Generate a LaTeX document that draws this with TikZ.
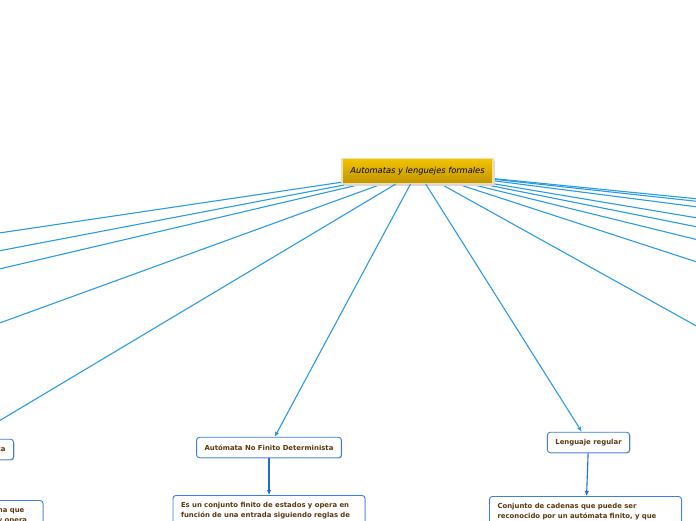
\documentclass[tikz,border=0pt]{standalone}
\usepackage{fontspec}
\setmainfont{DejaVu Sans}
\usetikzlibrary{positioning,arrows.meta,shadows,backgrounds}
\definecolor{linkblue}{HTML}{2B9BE3}
\definecolor{arrowblue}{HTML}{1F6ED4}
\definecolor{boxblue}{HTML}{3D7FE0}
\definecolor{textbrown}{HTML}{5A3810}
\definecolor{goldtop}{HTML}{F2C400}
\definecolor{goldbot}{HTML}{C29400}
\definecolor{goldrim}{HTML}{EFDFA8}
\tikzset{
  central/.style={
    draw=goldrim, line width=1.2pt, top color=goldtop, bottom color=goldbot,
    minimum width=151pt, minimum height=25pt, inner sep=0pt,
    font=\itshape\fontsize{8.3}{9}\selectfont,
    drop shadow={shadow xshift=2pt, shadow yshift=-2pt, fill=black!15, opacity=1}
  },
  topic/.style={
    draw=boxblue, line width=0.9pt, rounded corners=3pt, fill=white,
    text=textbrown, font=\bfseries\fontsize{6.9}{8}\selectfont,
    inner xsep=8pt, inner ysep=0pt, minimum height=20.5pt,
    drop shadow={shadow xshift=0.7pt, shadow yshift=-0.7pt, fill=black!30, opacity=1}
  },
  note/.style={
    topic, align=left, text width=176pt, inner ysep=6.5pt, minimum height=0pt,
    font=\bfseries\fontsize{6.9}{10}\selectfont, text depth=40pt
  },
  branch/.style={draw=linkblue, line width=1.1pt},
  link/.style={branch, -{Latex[length=5pt,width=4.5pt]}},
  down/.style={draw=arrowblue, line width=1.1pt, -{Latex[length=5pt,width=4.5pt]}}
}

\begin{document}
\begin{tikzpicture}[x=1pt,y=-1pt]
 \useasboundingbox (0,0) rectangle (696,520);
 \clip (0,0) rectangle (696,520);

 \node[central] (hub) at (417.5,171) {Automatas y lenguejes formales};

 \node[topic] (anfd) at (269,447.5) {Autómata No Finito Determinista};
 \node[topic] (lreg) at (588.5,442.5) {Lenguaje regular};
 \node[topic, anchor=east] (comp) at (14,449.5) {Computación Teórica Básica};

 \node[note, anchor=north] (anfdtxt) at (269,495)
   {Es un conjunto finito de estados y opera en\\función de una entrada siguiendo reglas de};
 \node[note, anchor=north] (lregtxt) at (585.5,496)
   {Conjunto de cadenas que puede ser\\reconocido por un autómata finito, y que};
 \node[note, anchor=north] (comptxt) at (-53,500)
   {Es un modelo abstracto de la máquina que\\recibe símbolos de la entrada dada y opera};

 \foreach \n/\y in {1/203.1, 2/206, 3/212.4, 4/225.1, 5/235.5, 6/250.2, 7/276, 8/350.2} {
   \coordinate (r\n) at (740,\y);
 }
 \foreach \n/\y in {1/238.8, 2/258.3, 3/278.2, 4/337.4} {
   \coordinate (l\n) at (-40,\y);
 }

 \begin{pgfonlayer}{background}
 \foreach \n in {1,...,8} {
   \draw[branch] (hub) -- (r\n);
 }
 \foreach \n in {1,...,4} {
   \draw[branch] (hub) -- (l\n);
 }
 \end{pgfonlayer}

 \draw[link] (hub) -- (anfd);
 \draw[link] (hub) -- (lreg);
 \draw[link] (hub) -- (comp);

 \draw[down] (anfd) -- (anfdtxt);
 \draw[down] (lreg) -- (lregtxt);
 \draw[down] (comp) -- (comptxt);
\end{tikzpicture}
\end{document}
